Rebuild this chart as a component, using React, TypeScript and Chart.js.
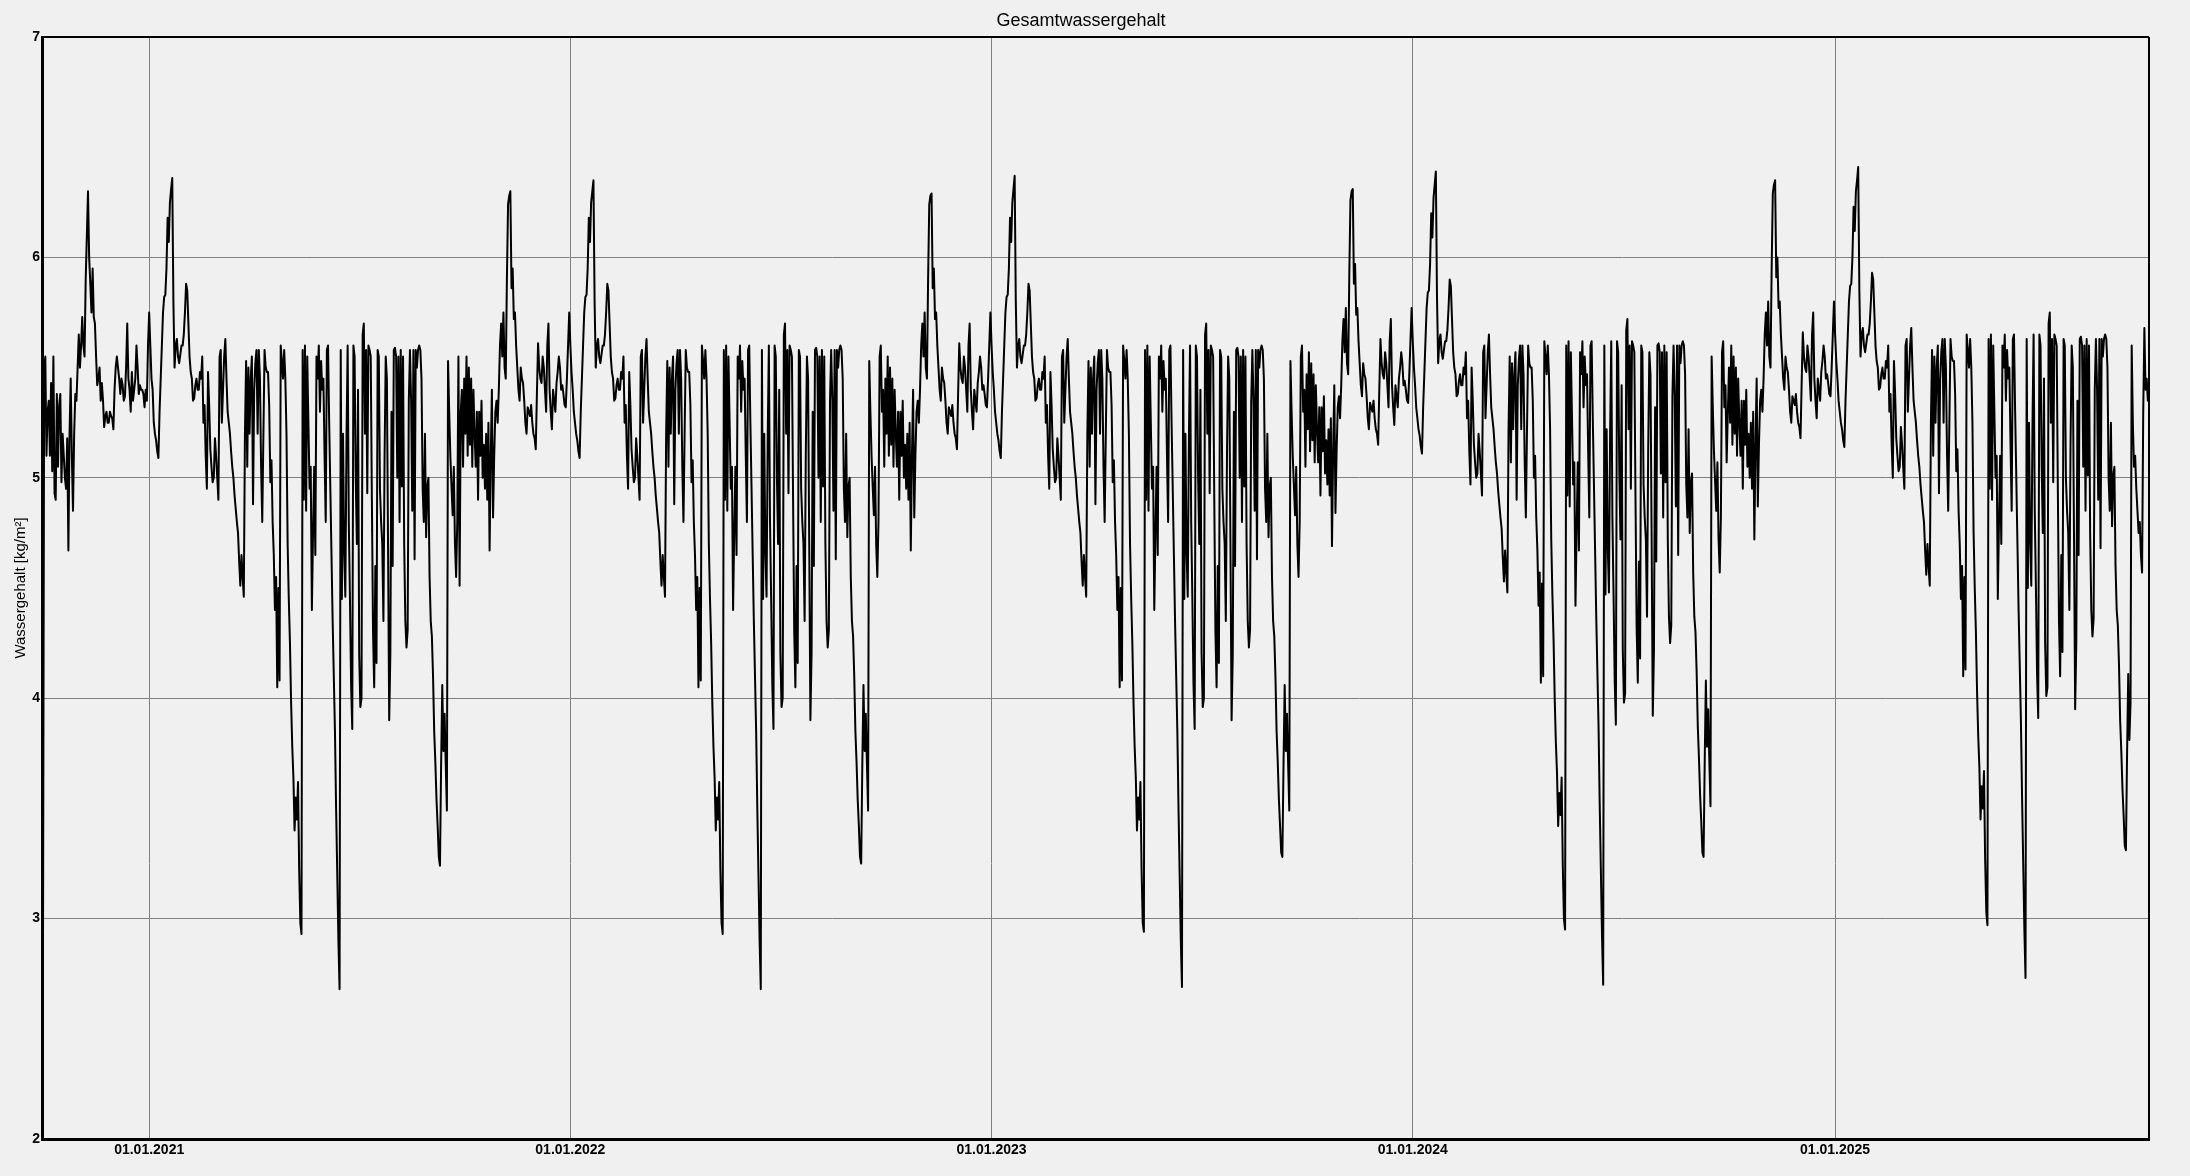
import React, { useEffect, useRef } from "react";
import { Chart, registerables } from "chart.js";

Chart.register(...registerables);

const chartTitle = "Gesamtwassergehalt";
const yAxisTitle = "Wassergehalt [kg/m²]";

// x axis: days since 01.10.2020, one sample per day
const yearStartDays = [0, 365, 730, 1095, 1461];
const sampleStepDays = 1;
const xMaxDays = 1825;
const xTickDays = [92, 457, 822, 1187, 1553];
const xTickLabels = ["01.01.2021", "01.01.2022", "01.01.2023", "01.01.2024", "01.01.2025"];
const yMin = 2;
const yMax = 7;

// Oct 2020 - Sep 2021
const water2021 = [
  2.86, 5.50, 5.55, 5.10, 5.30, 5.35, 5.10, 5.43, 5.03, 5.55,
  4.93, 4.90, 5.38, 5.05, 5.33, 5.38, 4.98, 5.20, 5.10, 5.00,
  4.95, 5.18, 4.67, 5.20, 5.45, 5.10, 4.85, 5.20, 5.38, 5.35,
  5.50, 5.65, 5.50, 5.60, 5.73, 5.60, 5.55, 5.90, 6.10, 6.30,
  6.00, 5.88, 5.75, 5.95, 5.73, 5.70, 5.55, 5.42, 5.45, 5.50,
  5.35, 5.43, 5.35, 5.23, 5.28, 5.30, 5.25, 5.25, 5.30, 5.28,
  5.27, 5.22, 5.40, 5.50, 5.55, 5.50, 5.45, 5.38, 5.45, 5.42,
  5.35, 5.37, 5.50, 5.70, 5.45, 5.40, 5.30, 5.48, 5.35, 5.40,
  5.45, 5.60, 5.50, 5.38, 5.42, 5.40, 5.40, 5.38, 5.32, 5.40,
  5.35, 5.60, 5.75, 5.60, 5.45, 5.40, 5.25, 5.20, 5.17, 5.12,
  5.09, 5.30, 5.45, 5.60, 5.75, 5.82, 5.83, 5.95, 6.18, 6.07,
  6.25, 6.31, 6.36, 5.80, 5.50, 5.60, 5.63, 5.55, 5.52, 5.56,
  5.60, 5.60, 5.65, 5.75, 5.88, 5.85, 5.70, 5.55, 5.48, 5.45,
  5.35, 5.36, 5.42, 5.45, 5.40, 5.40, 5.48, 5.45, 5.55, 5.25,
  5.33, 5.10, 4.95, 5.48, 5.33, 5.13, 5.05, 4.98, 5.00, 5.18,
  5.10, 5.00, 4.90, 5.55, 5.58, 5.25, 5.40, 5.55, 5.63, 5.45,
  5.30, 5.25, 5.20, 5.12, 5.05, 5.00, 4.92, 4.86, 4.80, 4.75,
  4.62, 4.51, 4.65, 4.55, 4.46, 5.20, 5.53, 5.05, 5.50, 5.20,
  5.45, 5.55, 4.88, 5.40, 5.52, 5.58, 5.20, 5.58, 5.45, 5.05,
  4.80, 5.20, 5.58, 5.50, 5.48, 5.48, 5.33, 4.98, 5.08, 4.80,
  4.65, 4.40, 4.55, 4.05, 4.50, 4.08, 5.60, 5.53, 5.45, 5.58,
  5.45, 5.20, 4.70, 4.45, 4.25, 3.98, 3.78, 3.64, 3.40, 3.55,
  3.45, 3.62, 3.22, 2.98, 2.93, 5.58, 4.90, 5.60, 4.85, 5.55,
  5.25, 4.95, 5.05, 4.40, 4.75, 5.05, 4.65, 5.55, 5.45, 5.60,
  5.30, 5.53, 5.40, 5.45, 5.10, 4.80, 5.58, 5.60, 5.25, 4.95,
  4.65, 4.35, 4.10, 3.85, 3.50, 3.20, 2.90, 2.68, 5.58, 4.45,
  5.20, 4.66, 4.46, 5.18, 5.60, 4.80, 4.45, 4.06, 3.86, 5.60,
  5.55, 5.00, 4.70, 5.40, 4.20, 3.96, 4.00, 5.65, 5.70, 5.20,
  5.58, 4.93, 5.60, 5.58, 5.55, 4.90, 4.30, 4.05, 4.60, 4.16,
  5.58, 5.55, 4.95, 4.80, 4.70, 4.35, 5.10, 5.55, 5.45, 4.70,
  3.90, 4.20, 5.30, 4.60, 5.58, 5.59, 5.55, 5.00, 5.55, 4.80,
  5.58, 4.96, 5.55, 4.70, 4.35, 4.23, 4.31, 5.35, 5.58, 5.35,
  4.85, 5.58, 4.63, 5.58, 5.50, 5.58, 5.60, 5.58, 5.45, 4.95,
  4.80, 5.20, 4.73, 4.96, 5.00, 4.55, 4.35, 4.28, 4.10, 3.85,
  3.71, 3.54, 3.42, 3.28, 3.24, 3.70, 4.06, 3.76, 3.93, 3.70,
  3.49, 5.53, 5.30, 5.10, 4.96, 4.83, 5.05, 4.70, 4.55, 4.80,
  5.55, 4.51, 5.30, 5.40, 5.05,
];

// Oct 2021 - Sep 2022
const water2022 = [
  5.45, 5.20, 5.55, 5.10, 5.50, 5.15, 5.45, 5.05, 5.40, 5.20,
  5.05, 5.30, 4.90, 5.30, 5.10, 5.35, 5.00, 5.15, 4.95, 5.20,
  4.90, 5.25, 4.67, 5.10, 5.40, 4.82, 5.10, 5.30, 5.35, 5.25,
  5.40, 5.60, 5.70, 5.55, 5.75, 5.50, 5.45, 5.90, 6.24, 6.28,
  6.30, 5.86, 5.95, 5.72, 5.75, 5.60, 5.50, 5.40, 5.35, 5.50,
  5.45, 5.43, 5.35, 5.25, 5.20, 5.32, 5.30, 5.28, 5.33, 5.25,
  5.20, 5.18, 5.13, 5.38, 5.61, 5.50, 5.45, 5.43, 5.55, 5.50,
  5.40, 5.30, 5.60, 5.70, 5.40, 5.30, 5.22, 5.40, 5.35, 5.30,
  5.43, 5.48, 5.55, 5.50, 5.40, 5.42, 5.38, 5.33, 5.32, 5.45,
  5.60, 5.75, 5.60, 5.48, 5.40, 5.30, 5.25, 5.20, 5.17, 5.12,
  5.09, 5.30, 5.45, 5.60, 5.75, 5.82, 5.83, 5.95, 6.18, 6.07,
  6.25, 6.30, 6.35, 5.80, 5.50, 5.60, 5.63, 5.55, 5.52, 5.56,
  5.60, 5.60, 5.65, 5.75, 5.88, 5.85, 5.70, 5.55, 5.48, 5.45,
  5.35, 5.36, 5.42, 5.45, 5.40, 5.40, 5.48, 5.45, 5.55, 5.25,
  5.33, 5.10, 4.95, 5.48, 5.33, 5.13, 5.05, 4.98, 5.00, 5.18,
  5.10, 5.00, 4.90, 5.55, 5.58, 5.25, 5.40, 5.55, 5.63, 5.45,
  5.30, 5.25, 5.20, 5.12, 5.05, 5.00, 4.92, 4.86, 4.80, 4.75,
  4.62, 4.51, 4.65, 4.55, 4.46, 5.20, 5.53, 5.05, 5.50, 5.20,
  5.45, 5.55, 4.88, 5.40, 5.52, 5.58, 5.20, 5.58, 5.45, 5.05,
  4.80, 5.20, 5.58, 5.50, 5.48, 5.48, 5.33, 4.98, 5.08, 4.80,
  4.65, 4.40, 4.55, 4.05, 4.50, 4.08, 5.60, 5.53, 5.45, 5.58,
  5.45, 5.20, 4.70, 4.45, 4.25, 3.98, 3.78, 3.64, 3.40, 3.55,
  3.45, 3.62, 3.22, 2.98, 2.93, 5.58, 4.90, 5.60, 4.85, 5.55,
  5.25, 4.95, 5.05, 4.40, 4.75, 5.05, 4.65, 5.55, 5.45, 5.60,
  5.30, 5.53, 5.40, 5.45, 5.10, 4.80, 5.58, 5.60, 5.25, 4.95,
  4.65, 4.35, 4.10, 3.85, 3.50, 3.20, 2.90, 2.68, 5.58, 4.45,
  5.20, 4.66, 4.46, 5.18, 5.60, 4.80, 4.45, 4.06, 3.86, 5.60,
  5.55, 5.00, 4.70, 5.40, 4.20, 3.96, 4.00, 5.65, 5.70, 5.20,
  5.58, 4.93, 5.60, 5.58, 5.55, 4.90, 4.30, 4.05, 4.60, 4.16,
  5.58, 5.55, 4.95, 4.80, 4.70, 4.35, 5.10, 5.55, 5.45, 4.70,
  3.90, 4.20, 5.30, 4.60, 5.58, 5.59, 5.55, 5.00, 5.55, 4.80,
  5.58, 4.96, 5.55, 4.70, 4.35, 4.23, 4.31, 5.35, 5.58, 5.35,
  4.85, 5.58, 4.63, 5.58, 5.50, 5.58, 5.60, 5.58, 5.45, 4.95,
  4.80, 5.20, 4.73, 4.96, 5.00, 4.55, 4.35, 4.28, 4.10, 3.85,
  3.71, 3.54, 3.42, 3.28, 3.25, 3.70, 4.06, 3.76, 3.93, 3.70,
  3.49, 5.53, 5.30, 5.10, 4.96, 4.83, 5.05, 4.70, 4.55, 4.80,
  5.55, 5.60, 5.30, 5.40, 5.05,
];

// Oct 2022 - Sep 2023
const water2023 = [
  5.45, 5.20, 5.55, 5.10, 5.50, 5.15, 5.45, 5.05, 5.40, 5.20,
  5.05, 5.30, 4.90, 5.30, 5.10, 5.35, 5.00, 5.15, 4.95, 5.20,
  4.90, 5.25, 4.67, 5.10, 5.40, 4.82, 5.10, 5.30, 5.35, 5.25,
  5.40, 5.60, 5.70, 5.55, 5.75, 5.50, 5.45, 5.90, 6.24, 6.28,
  6.29, 5.86, 5.95, 5.72, 5.75, 5.60, 5.50, 5.40, 5.35, 5.50,
  5.45, 5.43, 5.35, 5.25, 5.20, 5.32, 5.30, 5.28, 5.33, 5.25,
  5.20, 5.18, 5.13, 5.38, 5.61, 5.50, 5.45, 5.43, 5.55, 5.50,
  5.40, 5.30, 5.60, 5.70, 5.40, 5.30, 5.22, 5.40, 5.35, 5.30,
  5.43, 5.48, 5.55, 5.50, 5.40, 5.42, 5.38, 5.33, 5.32, 5.45,
  5.60, 5.75, 5.60, 5.48, 5.40, 5.30, 5.25, 5.20, 5.17, 5.12,
  5.09, 5.30, 5.45, 5.60, 5.75, 5.82, 5.83, 5.95, 6.18, 6.07,
  6.25, 6.31, 6.37, 5.80, 5.50, 5.60, 5.63, 5.55, 5.52, 5.56,
  5.60, 5.60, 5.65, 5.75, 5.88, 5.85, 5.70, 5.55, 5.48, 5.45,
  5.35, 5.36, 5.42, 5.45, 5.40, 5.40, 5.48, 5.45, 5.55, 5.25,
  5.33, 5.10, 4.95, 5.48, 5.33, 5.13, 5.05, 4.98, 5.00, 5.18,
  5.10, 5.00, 4.90, 5.55, 5.58, 5.25, 5.40, 5.55, 5.63, 5.45,
  5.30, 5.25, 5.20, 5.12, 5.05, 5.00, 4.92, 4.86, 4.80, 4.75,
  4.62, 4.51, 4.65, 4.55, 4.46, 5.20, 5.53, 5.05, 5.50, 5.20,
  5.45, 5.55, 4.88, 5.40, 5.52, 5.58, 5.20, 5.58, 5.45, 5.05,
  4.80, 5.20, 5.58, 5.50, 5.48, 5.48, 5.33, 4.98, 5.08, 4.80,
  4.65, 4.40, 4.55, 4.05, 4.50, 4.08, 5.60, 5.53, 5.45, 5.58,
  5.45, 5.20, 4.70, 4.45, 4.25, 3.98, 3.78, 3.64, 3.40, 3.55,
  3.45, 3.62, 3.22, 2.98, 2.94, 5.58, 4.90, 5.60, 4.85, 5.55,
  5.25, 4.95, 5.05, 4.40, 4.75, 5.05, 4.65, 5.55, 5.45, 5.60,
  5.30, 5.53, 5.40, 5.45, 5.10, 4.80, 5.58, 5.60, 5.25, 4.95,
  4.65, 4.35, 4.10, 3.85, 3.50, 3.20, 2.90, 2.69, 5.58, 4.45,
  5.20, 4.66, 4.46, 5.18, 5.60, 4.80, 4.45, 4.06, 3.86, 5.60,
  5.55, 5.00, 4.70, 5.40, 4.20, 3.96, 4.00, 5.65, 5.70, 5.20,
  5.58, 4.93, 5.60, 5.58, 5.55, 4.90, 4.30, 4.05, 4.60, 4.16,
  5.58, 5.55, 4.95, 4.80, 4.70, 4.35, 5.10, 5.55, 5.45, 4.70,
  3.90, 4.20, 5.30, 4.60, 5.58, 5.59, 5.55, 5.00, 5.55, 4.80,
  5.58, 4.96, 5.55, 4.70, 4.35, 4.23, 4.31, 5.35, 5.58, 5.35,
  4.85, 5.58, 4.63, 5.58, 5.50, 5.58, 5.60, 5.58, 5.45, 4.95,
  4.80, 5.20, 4.73, 4.96, 5.00, 4.55, 4.35, 4.28, 4.10, 3.85,
  3.71, 3.54, 3.42, 3.30, 3.28, 3.70, 4.06, 3.76, 3.93, 3.70,
  3.49, 5.53, 5.30, 5.10, 4.96, 4.83, 5.05, 4.70, 4.55, 4.80,
  5.55, 5.60, 5.30, 5.40, 5.05,
];

// Oct 2023 - Sep 2024
const water2024 = [
  5.47, 5.22, 5.57, 5.12, 5.52, 5.17, 5.47, 5.07, 5.42, 5.22,
  5.07, 5.32, 4.92, 5.32, 5.12, 5.37, 5.02, 5.17, 4.97, 5.22,
  4.92, 5.27, 4.69, 5.12, 5.42, 4.84, 5.12, 5.32, 5.37, 5.27,
  5.42, 5.62, 5.72, 5.57, 5.77, 5.52, 5.47, 5.92, 6.26, 6.30,
  6.31, 5.88, 5.97, 5.74, 5.77, 5.62, 5.52, 5.42, 5.37, 5.52,
  5.47, 5.45, 5.37, 5.27, 5.22, 5.34, 5.32, 5.30, 5.35, 5.27,
  5.22, 5.20, 5.15, 5.40, 5.63, 5.52, 5.47, 5.45, 5.57, 5.52,
  5.42, 5.32, 5.62, 5.72, 5.42, 5.32, 5.24, 5.42, 5.37, 5.32,
  5.45, 5.50, 5.57, 5.52, 5.42, 5.44, 5.40, 5.35, 5.34, 5.47,
  5.62, 5.77, 5.62, 5.50, 5.42, 5.32, 5.27, 5.22, 5.19, 5.14,
  5.11, 5.32, 5.47, 5.62, 5.77, 5.84, 5.85, 5.97, 6.20, 6.09,
  6.27, 6.33, 6.39, 5.82, 5.52, 5.62, 5.65, 5.57, 5.54, 5.58,
  5.62, 5.62, 5.67, 5.77, 5.90, 5.87, 5.72, 5.57, 5.50, 5.47,
  5.37, 5.38, 5.44, 5.47, 5.42, 5.42, 5.50, 5.47, 5.57, 5.27,
  5.35, 5.12, 4.97, 5.50, 5.35, 5.15, 5.07, 5.00, 5.02, 5.20,
  5.12, 5.02, 4.92, 5.57, 5.60, 5.27, 5.42, 5.57, 5.65, 5.47,
  5.32, 5.27, 5.22, 5.14, 5.07, 5.02, 4.94, 4.88, 4.82, 4.77,
  4.64, 4.53, 4.67, 4.57, 4.48, 5.22, 5.55, 5.07, 5.52, 5.22,
  5.47, 5.57, 4.90, 5.42, 5.54, 5.60, 5.22, 5.60, 5.47, 5.07,
  4.82, 5.22, 5.60, 5.52, 5.50, 5.50, 5.35, 5.00, 5.10, 4.82,
  4.67, 4.42, 4.57, 4.07, 4.52, 4.10, 5.62, 5.55, 5.47, 5.60,
  5.47, 5.22, 4.72, 4.47, 4.27, 4.00, 3.80, 3.66, 3.42, 3.57,
  3.47, 3.64, 3.24, 3.00, 2.95, 5.60, 4.92, 5.62, 4.87, 5.57,
  5.27, 4.97, 5.07, 4.42, 4.77, 5.07, 4.67, 5.57, 5.47, 5.62,
  5.32, 5.55, 5.42, 5.47, 5.12, 4.82, 5.60, 5.62, 5.27, 4.97,
  4.67, 4.37, 4.12, 3.87, 3.52, 3.22, 2.92, 2.70, 5.60, 4.47,
  5.22, 4.68, 4.48, 5.20, 5.62, 4.82, 4.47, 4.08, 3.88, 5.62,
  5.57, 5.02, 4.72, 5.42, 4.22, 3.98, 4.02, 5.67, 5.72, 5.22,
  5.60, 4.95, 5.62, 5.60, 5.57, 4.92, 4.32, 4.07, 4.62, 4.18,
  5.60, 5.57, 4.97, 4.82, 4.72, 4.37, 5.12, 5.57, 5.47, 4.72,
  3.92, 4.22, 5.32, 4.62, 5.60, 5.61, 5.57, 5.02, 5.57, 4.82,
  5.60, 4.98, 5.57, 4.72, 4.37, 4.25, 4.33, 5.37, 5.60, 5.37,
  4.87, 5.60, 4.65, 5.60, 5.52, 5.60, 5.62, 5.60, 5.47, 4.97,
  4.82, 5.22, 4.75, 4.98, 5.02, 4.57, 4.37, 4.30, 4.12, 3.87,
  3.73, 3.56, 3.44, 3.30, 3.28, 3.72, 4.08, 3.78, 3.95, 3.72,
  3.51, 5.55, 5.32, 5.12, 4.98, 4.85, 5.07, 4.72, 4.57, 4.82,
  5.57, 5.62, 5.32, 5.42, 5.07,
];

// Oct 2024 - Sep 2025
const water2025 = [
  5.50, 5.25, 5.60, 5.15, 5.55, 5.20, 5.50, 5.10, 5.45, 5.25,
  5.10, 5.35, 4.95, 5.35, 5.15, 5.40, 5.05, 5.20, 5.00, 5.25,
  4.95, 5.30, 4.72, 5.15, 5.45, 4.87, 5.15, 5.35, 5.40, 5.30,
  5.45, 5.65, 5.75, 5.60, 5.80, 5.55, 5.50, 5.95, 6.29, 6.33,
  6.35, 5.91, 6.00, 5.77, 5.80, 5.65, 5.55, 5.45, 5.40, 5.55,
  5.50, 5.48, 5.40, 5.30, 5.25, 5.37, 5.35, 5.33, 5.38, 5.30,
  5.25, 5.23, 5.18, 5.43, 5.66, 5.55, 5.50, 5.48, 5.60, 5.55,
  5.45, 5.35, 5.65, 5.75, 5.45, 5.35, 5.27, 5.45, 5.40, 5.35,
  5.48, 5.53, 5.60, 5.55, 5.45, 5.47, 5.43, 5.38, 5.37, 5.50,
  5.65, 5.80, 5.65, 5.53, 5.45, 5.35, 5.30, 5.25, 5.22, 5.17,
  5.14, 5.35, 5.50, 5.65, 5.80, 5.87, 5.88, 6.00, 6.23, 6.12,
  6.30, 6.35, 6.41, 5.85, 5.55, 5.65, 5.68, 5.60, 5.57, 5.61,
  5.65, 5.65, 5.70, 5.80, 5.93, 5.90, 5.75, 5.60, 5.53, 5.50,
  5.40, 5.41, 5.47, 5.50, 5.45, 5.45, 5.53, 5.50, 5.60, 5.30,
  5.38, 5.15, 5.00, 5.53, 5.38, 5.18, 5.10, 5.03, 5.05, 5.23,
  5.15, 5.05, 4.95, 5.60, 5.63, 5.30, 5.45, 5.60, 5.68, 5.50,
  5.35, 5.30, 5.25, 5.17, 5.10, 5.05, 4.97, 4.91, 4.85, 4.80,
  4.67, 4.56, 4.70, 4.60, 4.51, 5.25, 5.58, 5.10, 5.55, 5.25,
  5.50, 5.60, 4.93, 5.45, 5.57, 5.63, 5.25, 5.63, 5.50, 5.10,
  4.85, 5.25, 5.63, 5.55, 5.53, 5.53, 5.38, 5.03, 5.13, 4.85,
  4.70, 4.45, 4.60, 4.10, 4.55, 4.13, 5.65, 5.58, 5.50, 5.63,
  5.50, 5.25, 4.75, 4.50, 4.30, 4.03, 3.83, 3.69, 3.45, 3.60,
  3.50, 3.67, 3.27, 3.03, 2.97, 5.63, 4.95, 5.65, 4.90, 5.60,
  5.30, 5.00, 5.10, 4.45, 4.80, 5.10, 4.70, 5.60, 5.50, 5.65,
  5.35, 5.58, 5.45, 5.50, 5.15, 4.85, 5.63, 5.65, 5.30, 5.00,
  4.70, 4.40, 4.15, 3.90, 3.55, 3.25, 2.95, 2.73, 5.63, 4.50,
  5.25, 4.71, 4.51, 5.23, 5.65, 4.85, 4.50, 4.11, 3.91, 5.65,
  5.60, 5.05, 4.75, 5.45, 4.25, 4.01, 4.05, 5.70, 5.75, 5.25,
  5.63, 4.98, 5.65, 5.63, 5.60, 4.95, 4.35, 4.10, 4.65, 4.21,
  5.63, 5.60, 5.00, 4.85, 4.75, 4.40, 5.15, 5.60, 5.50, 4.75,
  3.95, 4.25, 5.35, 4.65, 5.63, 5.64, 5.60, 5.05, 5.60, 4.85,
  5.63, 5.01, 5.60, 4.75, 4.40, 4.28, 4.36, 5.40, 5.63, 5.40,
  4.90, 5.63, 4.68, 5.63, 5.55, 5.63, 5.65, 5.63, 5.50, 5.00,
  4.85, 5.25, 4.78, 5.01, 5.05, 4.60, 4.40, 4.33, 4.15, 3.90,
  3.76, 3.59, 3.47, 3.33, 3.31, 3.75, 4.11, 3.81, 3.98, 5.60,
  5.25, 5.05, 5.10, 4.95, 4.85, 4.75, 4.80, 4.65, 4.57, 5.30,
  5.68, 5.40, 5.45, 5.35, 5.40,
];

const waterYears = [water2021, water2022, water2023, water2024, water2025];

const FONT = "'Liberation Sans', Arial, sans-serif";

const backgroundPlugin = {
  id: "bgFill",
  beforeDraw(chart: any) {
    const ctx = chart.ctx;
    ctx.save();
    ctx.fillStyle = "#f0f0f0";
    ctx.fillRect(0, 0, chart.width, chart.height);
    ctx.restore();
  },
};

const framePlugin = {
  id: "frameAndTitles",
  afterDatasetsDraw(chart: any) {
    const { left, right, top, bottom } = chart.chartArea;
    const ctx = chart.ctx;
    ctx.save();
    ctx.strokeStyle = "#000";
    ctx.lineWidth = 2;
    ctx.beginPath();
    ctx.moveTo(left, top);
    ctx.lineTo(right, top);
    ctx.moveTo(right, top);
    ctx.lineTo(right, bottom);
    ctx.stroke();
    ctx.lineWidth = 3;
    ctx.beginPath();
    ctx.moveTo(left - 0.5, top - 1);
    ctx.lineTo(left - 0.5, bottom + 0.5);
    ctx.lineTo(right + 1, bottom + 0.5);
    ctx.stroke();
    ctx.restore();
  },
  afterDraw(chart: any) {
    const ctx = chart.ctx;
    const { top, bottom } = chart.chartArea;
    ctx.save();
    ctx.fillStyle = "#000";
    ctx.font = `18px ${FONT}`;
    ctx.textAlign = "center";
    ctx.textBaseline = "alphabetic";
    ctx.fillText(chartTitle, 1081, 26);
    ctx.translate(21, (top + bottom) / 2);
    ctx.rotate(-Math.PI / 2);
    ctx.font = `15px ${FONT}`;
    ctx.textBaseline = "middle";
    ctx.fillText(yAxisTitle, 0, 0);
    ctx.restore();
  },
};

export default function App() {
  const ref = useRef<HTMLCanvasElement>(null);

  useEffect(() => {
    document.body.style.margin = "0";
    document.body.style.background = "#f0f0f0";
    const points: { x: number; y: number }[] = [];
    waterYears.forEach((vals, yi) => {
      vals.forEach((v, k) => {
        points.push({ x: yearStartDays[yi] + k * sampleStepDays, y: v });
      });
    });

    const chart = new Chart(ref.current as HTMLCanvasElement, {
      type: "line",
      data: {
        datasets: [
          {
            data: points,
            borderColor: "#000000",
            borderWidth: 2,
            borderJoinStyle: "round",
            pointRadius: 0,
            tension: 0,
            fill: false,
          },
        ],
      },
      options: {
        responsive: false,
        devicePixelRatio: 1,
        animation: false,
        layout: { padding: { left: 0, right: 41, top: 37, bottom: 0 } },
        plugins: {
          legend: { display: false },
          tooltip: { enabled: false },
          title: { display: false },
        },
        scales: {
          x: {
            type: "linear",
            min: 0,
            max: xMaxDays,
            afterBuildTicks(scale: any) {
              scale.ticks = xTickDays.map((v) => ({ value: v }));
            },
            afterFit(scale: any) {
              scale.height = 37;
            },
            ticks: {
              autoSkip: false,
              maxRotation: 0,
              padding: 3,
              color: "#000",
              font: { family: FONT, size: 14, weight: "bold" },
              callback: (value: any) => {
                const i = xTickDays.indexOf(Number(value));
                return i >= 0 ? xTickLabels[i] : "";
              },
            },
            grid: { color: "#808080", lineWidth: 1, drawTicks: false },
            border: { display: false },
          },
          y: {
            min: yMin,
            max: yMax,
            afterFit(scale: any) {
              scale.width = 43;
            },
            ticks: {
              stepSize: 1,
              padding: 3,
              color: "#000",
              font: { family: FONT, size: 14, weight: "bold" },
            },
            grid: { color: "#808080", lineWidth: 1, drawTicks: false },
            border: { display: false },
          },
        },
      } as any,
      plugins: [backgroundPlugin, framePlugin],
    });
    return () => chart.destroy();
  }, []);

  return (
    <canvas
      ref={ref}
      width={2190}
      height={1176}
      style={{ display: "block", width: 2190, height: 1176 }}
    />
  );
}
